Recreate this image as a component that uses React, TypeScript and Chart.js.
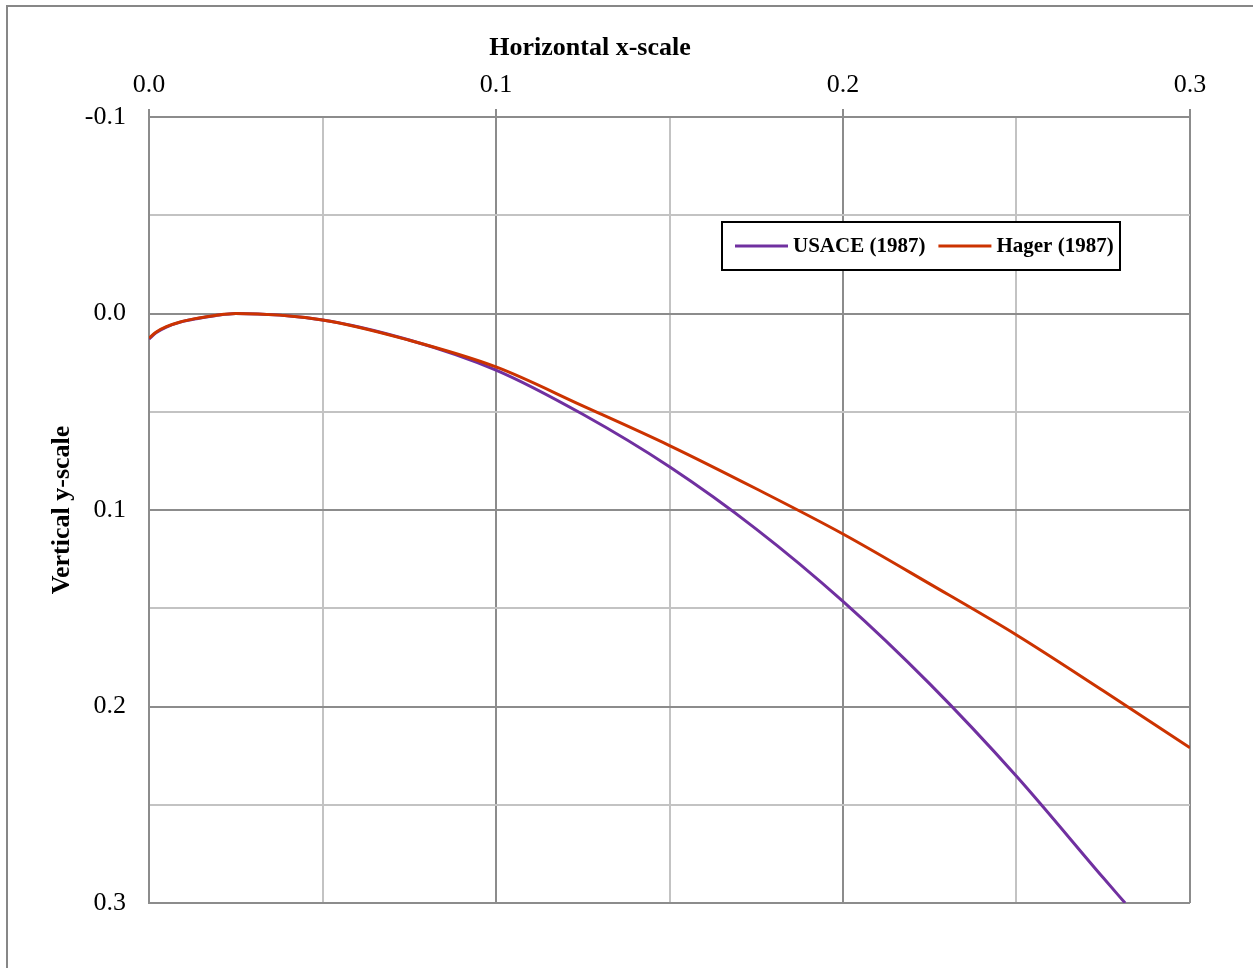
import React, { useEffect, useRef } from "react";
import { Chart, registerables } from "chart.js";

Chart.register(...registerables);

// ---- Data ----
const USACE_X = [0, 0.002, 0.005, 0.009, 0.014, 0.019, 0.025, 0.05, 0.075, 0.1, 0.125, 0.15, 0.175, 0.2, 0.225, 0.25, 0.275, 0.2813];
const USACE_Y = [0.013, 0.0098, 0.0069, 0.0044, 0.0025, 0.0011, 0.0, 0.0033, 0.0135, 0.0288, 0.0513, 0.078, 0.1097, 0.1465, 0.1885, 0.2355, 0.2872, 0.3];

const HAGER_X = [0, 0.002, 0.005, 0.009, 0.014, 0.019, 0.025, 0.05, 0.075, 0.1, 0.125, 0.15, 0.175, 0.2, 0.225, 0.25, 0.275, 0.3];
const HAGER_Y = [0.0125, 0.0095, 0.0067, 0.0043, 0.0024, 0.001, 0.0, 0.0033, 0.0136, 0.0272, 0.047, 0.0672, 0.0892, 0.1122, 0.1376, 0.1636, 0.192, 0.221];

const SERIES_LABELS = ["USACE (1987)", "Hager (1987)"];

const X_MAJOR = [0, 0.1, 0.2, 0.3];
const X_LABELS = ["0.0", "0.1", "0.2", "0.3"];
const Y_MAJOR = [-0.1, 0, 0.1, 0.2, 0.3];
const Y_LABELS = ["-0.1", "0.0", "0.1", "0.2", "0.3"];
const GRID_STEP = 0.05;

const X_TITLE = "Horizontal x-scale";
const Y_TITLE = "Vertical y-scale";

// ---- Styles ----
const FONT = "'Liberation Serif', 'Times New Roman', serif";
const MAJOR_COLOR = "#8c8c8c";
const MINOR_COLOR = "#c3c3c3";
const USACE_COLOR = "#7030a0";
const HAGER_COLOR = "#cc3300";

const majorIndex = (list: number[], v: number) =>
  list.findIndex((m) => Math.abs(m - v) < 1e-6);

const frameAndLegend = {
  id: "frameAndLegend",
  beforeDraw(chart: any) {
    const { ctx } = chart;
    ctx.save();
    ctx.strokeStyle = "#878787";
    ctx.lineWidth = 2;
    ctx.strokeRect(7, 6, chart.width + 20, chart.height + 20);
    // x-axis title (placed left of centre, as in the reference)
    ctx.fillStyle = "#000000";
    ctx.font = `bold 26px ${FONT}`;
    ctx.textAlign = "center";
    ctx.textBaseline = "middle";
    ctx.fillText(X_TITLE, 590, 48);
    ctx.restore();
  },
  afterDraw(chart: any) {
    const { ctx } = chart;
    const area = chart.chartArea;
    const boxLeft = area.left + 573;
    const boxTop = area.top + 105;
    const boxW = 398;
    const boxH = 48;
    ctx.save();
    ctx.fillStyle = "#ffffff";
    ctx.fillRect(boxLeft, boxTop, boxW, boxH);
    ctx.strokeStyle = "#000000";
    ctx.lineWidth = 2;
    ctx.strokeRect(boxLeft, boxTop, boxW, boxH);
    ctx.font = `bold 21px ${FONT}`;
    ctx.textBaseline = "middle";
    ctx.textAlign = "left";
    const cy = boxTop + boxH / 2;
    let x = boxLeft + 13;
    chart.data.datasets.forEach((ds: any) => {
      ctx.strokeStyle = ds.borderColor;
      ctx.lineWidth = 3;
      ctx.beginPath();
      ctx.moveTo(x, cy);
      ctx.lineTo(x + 53, cy);
      ctx.stroke();
      ctx.fillStyle = "#000000";
      ctx.fillText(ds.label, x + 58, cy + 1);
      x = x + 58 + ctx.measureText(ds.label).width + 13;
    });
    ctx.restore();
  },
};

export default function App() {
  const ref = useRef<HTMLCanvasElement | null>(null);

  useEffect(() => {
    if (!ref.current) return;
    const chart = new Chart(ref.current, {
      type: "scatter",
      data: {
        datasets: [
          {
            label: SERIES_LABELS[0],
            data: USACE_X.map((x, i) => ({ x, y: USACE_Y[i] })),
            borderColor: USACE_COLOR,
            backgroundColor: USACE_COLOR,
            borderWidth: 3,
            showLine: true,
            pointRadius: 0,
            cubicInterpolationMode: "monotone",
            order: 1,
          },
          {
            label: SERIES_LABELS[1],
            data: HAGER_X.map((x, i) => ({ x, y: HAGER_Y[i] })),
            borderColor: HAGER_COLOR,
            backgroundColor: HAGER_COLOR,
            borderWidth: 3,
            showLine: true,
            pointRadius: 0,
            cubicInterpolationMode: "monotone",
            order: 0,
          },
        ],
      },
      options: {
        responsive: false,
        animation: false,
        layout: { padding: { left: 0, top: 0, right: 63, bottom: 65 } },
        plugins: {
          legend: { display: false },
          tooltip: { enabled: false },
        },
        scales: {
          x: {
            type: "linear",
            position: "top",
            min: 0,
            max: 0.3,
            afterFit: (s: any) => {
              s.height = 117;
            },
            ticks: {
              stepSize: GRID_STEP,
              autoSkip: false,
              maxRotation: 0,
              padding: 8,
              color: "#000",
              font: { family: FONT, size: 26 },
              callback: (v: any) => {
                const i = majorIndex(X_MAJOR, Number(v));
                return i >= 0 ? X_LABELS[i] : "";
              },
            },
            grid: {
              lineWidth: 2,
              color: (c: any) =>
                c.tick && majorIndex(X_MAJOR, c.tick.value) >= 0 ? MAJOR_COLOR : MINOR_COLOR,
              drawTicks: true,
              tickLength: 8,
              tickWidth: 2,
              tickColor: (c: any) =>
                c.tick && majorIndex(X_MAJOR, c.tick.value) >= 0 ? MAJOR_COLOR : "rgba(0,0,0,0)",
            },
            border: { display: true, color: MAJOR_COLOR, width: 2 },
            title: { display: false },
          },
          y: {
            type: "linear",
            position: "left",
            reverse: true,
            min: -0.1,
            max: 0.3,
            afterFit: (s: any) => {
              s.width = 149;
            },
            ticks: {
              stepSize: GRID_STEP,
              autoSkip: false,
              padding: 23,
              color: "#000",
              font: { family: FONT, size: 26 },
              callback: (v: any) => {
                const i = majorIndex(Y_MAJOR, Number(v));
                return i >= 0 ? Y_LABELS[i] : "";
              },
            },
            grid: {
              lineWidth: 2,
              color: (c: any) =>
                c.tick && majorIndex(Y_MAJOR, c.tick.value) >= 0 ? MAJOR_COLOR : MINOR_COLOR,
              drawTicks: false,
            },
            border: { display: true, color: MAJOR_COLOR, width: 2 },
            title: {
              display: true,
              text: Y_TITLE,
              color: "#000",
              font: { family: FONT, size: 26, weight: "bold" },
              padding: { top: 47, bottom: 0 },
            },
          },
        },
      },
      plugins: [frameAndLegend],
    } as any);
    return () => chart.destroy();
  }, []);

  return (
    <canvas
      ref={ref}
      width={1253}
      height={968}
      style={{ position: "absolute", left: 0, top: 0, width: 1253, height: 968 }}
    />
  );
}
